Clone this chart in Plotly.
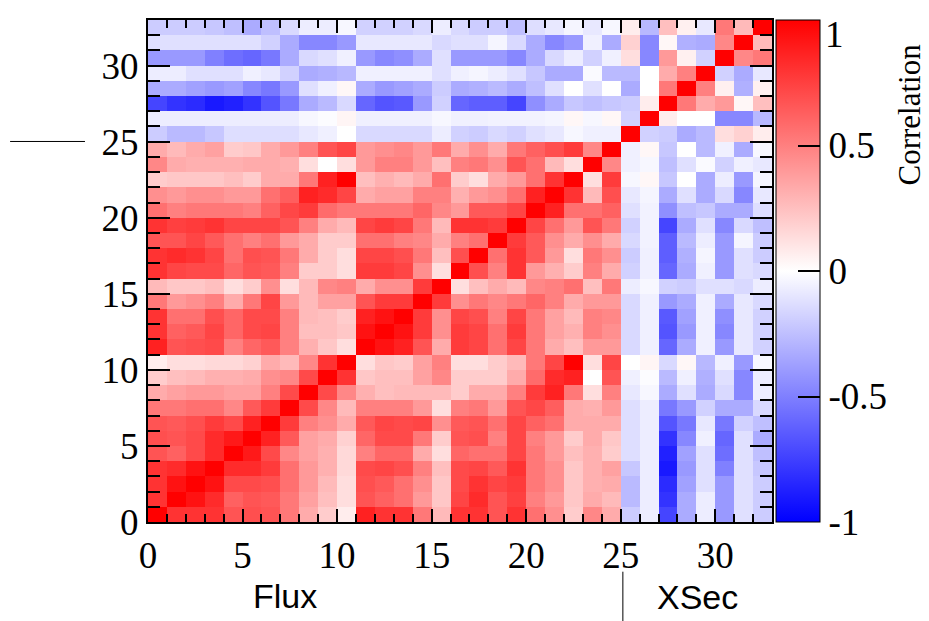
import numpy as np
import plotly.graph_objects as go

# Lower-triangle rows of the correlation matrix (row j holds columns 0..j)
r00 = [1.0]
r01 = [0.80, 1.0]
r02 = [0.80, 0.93, 1.0]
r03 = [0.80, 0.83, 0.93, 1.0]
r04 = [0.67, 0.62, 0.71, 0.83, 1.0]
r05 = [0.69, 0.67, 0.71, 0.83, 0.90, 1.0]
r06 = [0.67, 0.65, 0.69, 0.77, 0.71, 0.87, 1.0]
r07 = [0.53, 0.53, 0.56, 0.56, 0.47, 0.65, 0.77, 1.0]
r08 = [0.33, 0.37, 0.40, 0.40, 0.37, 0.37, 0.50, 0.71, 1.0]
r09 = [0.20, 0.25, 0.27, 0.31, 0.31, 0.33, 0.44, 0.47, 0.71, 1.0]
r10 = [0.07, 0.13, 0.13, 0.15, 0.15, 0.18, 0.33, 0.27, 0.47, 0.80, 1.0]
r11 = [0.87, 0.67, 0.69, 0.71, 0.50, 0.60, 0.65, 0.50, 0.31, 0.22, 0.13, 1.0]
r12 = [0.80, 0.62, 0.65, 0.73, 0.60, 0.71, 0.73, 0.50, 0.25, 0.25, 0.22, 0.93, 1.0]
r13 = [0.80, 0.56, 0.56, 0.69, 0.60, 0.71, 0.71, 0.50, 0.27, 0.25, 0.20, 0.87, 0.93, 1.0]
r14 = [0.53, 0.40, 0.44, 0.50, 0.33, 0.53, 0.73, 0.40, 0.27, 0.37, 0.37, 0.67, 0.77, 0.77, 1.0]
r15 = [0.27, 0.22, 0.22, 0.25, 0.13, 0.20, 0.44, 0.13, 0.27, 0.47, 0.50, 0.33, 0.44, 0.44, 0.77, 1.0]
r16 = [0.80, 0.73, 0.71, 0.71, 0.60, 0.67, 0.65, 0.50, 0.20, 0.20, 0.13, 0.77, 0.77, 0.73, 0.44, 0.13, 1.0]
r17 = [0.80, 0.83, 0.80, 0.73, 0.56, 0.69, 0.67, 0.53, 0.33, 0.20, 0.13, 0.73, 0.73, 0.69, 0.53, 0.25, 0.69,
       1.0]
r18 = [0.67, 0.67, 0.73, 0.65, 0.56, 0.50, 0.56, 0.40, 0.33, 0.20, 0.20, 0.56, 0.56, 0.50, 0.47, 0.33, 0.50,
       0.56, 1.0]
r19 = [0.80, 0.75, 0.77, 0.80, 0.73, 0.73, 0.73, 0.67, 0.50, 0.33, 0.27, 0.73, 0.77, 0.73, 0.53, 0.27, 0.80,
       0.80, 0.77, 1.0]
r20 = [0.56, 0.50, 0.53, 0.53, 0.53, 0.50, 0.62, 0.72, 0.77, 0.58, 0.53, 0.53, 0.53, 0.53, 0.60, 0.47, 0.40,
       0.65, 0.65, 0.73, 1.0]
r21 = [0.44, 0.40, 0.44, 0.44, 0.40, 0.40, 0.56, 0.63, 0.87, 0.83, 0.73, 0.33, 0.37, 0.37, 0.50, 0.50, 0.31,
       0.40, 0.44, 0.56, 0.87, 1.0]
r22 = [0.20, 0.22, 0.22, 0.22, 0.25, 0.20, 0.33, 0.33, 0.53, 0.87, 1.0, 0.25, 0.31, 0.27, 0.33, 0.56, 0.20,
       0.13, 0.33, 0.40, 0.56, 0.80, 1.0]
r23 = [0.47, 0.33, 0.31, 0.31, 0.31, 0.33, 0.33, 0.31, 0.13, 0.0, 0.13, 0.40, 0.50, 0.50, 0.40, 0.25, 0.50,
       0.53, 0.44, 0.67, 0.56, 0.27, 0.13, 1.0]
r24 = [0.33, 0.27, 0.33, 0.37, 0.20, 0.22, 0.33, 0.40, 0.50, 0.67, 0.73, 0.40, 0.44, 0.47, 0.40, 0.53, 0.33,
       0.44, 0.33, 0.53, 0.62, 0.69, 0.77, 0.47, 1.0]
r25 = [-0.20, -0.27, -0.27, -0.22, -0.13, -0.13, -0.13, -0.13, -0.09, -0.06, 0.0, -0.15, -0.15, -0.15, -0.15, -0.07, -0.18,
       -0.20, -0.15, -0.18, -0.12, -0.09, -0.03, -0.06, -0.06, 1.0]
r26 = [-0.07, -0.07, -0.07, -0.07, -0.07, -0.07, -0.07, -0.07, -0.03, -0.01, 0.04, -0.06, -0.06, -0.06, -0.06, -0.03, -0.06,
       -0.06, -0.05, -0.05, -0.05, -0.04, 0.03, -0.03, 0.03, -0.18, 1.0]
r27 = [-0.73, -0.80, -0.83, -0.90, -0.87, -0.80, -0.67, -0.53, -0.33, -0.27, -0.15, -0.60, -0.67, -0.65, -0.40, -0.18, -0.60,
       -0.63, -0.63, -0.73, -0.44, -0.33, -0.22, -0.25, -0.22, -0.20, 0.07, 1.0]
r28 = [-0.33, -0.33, -0.37, -0.40, -0.37, -0.47, -0.53, -0.40, -0.12, -0.06, 0.03, -0.33, -0.40, -0.37, -0.33, -0.20, -0.33,
       -0.31, -0.27, -0.33, -0.25, -0.12, 0.0, -0.12, 0.0, -0.33, 0.0, 0.53, 1.0]
r29 = [-0.07, -0.07, -0.12, -0.12, -0.12, -0.06, -0.09, -0.18, -0.33, -0.31, -0.28, -0.06, -0.06, -0.06, -0.06, -0.12, -0.06,
       -0.04, -0.07, -0.12, -0.22, -0.33, -0.33, -0.02, -0.27, -0.27, 0.0, 0.33, 0.50, 1.0]
r30 = [-0.40, -0.40, -0.40, -0.50, -0.57, -0.60, -0.53, -0.33, -0.15, -0.12, -0.06, -0.40, -0.47, -0.44, -0.33, -0.12, -0.40,
       -0.40, -0.40, -0.47, -0.33, -0.15, -0.07, -0.18, -0.06, 0.13, -0.47, 0.40, 0.06, -0.18, 1.0]
r31 = [-0.12, -0.12, -0.12, -0.12, -0.12, -0.12, -0.18, -0.33, -0.47, -0.47, -0.40, -0.09, -0.09, -0.09, -0.09, -0.15, -0.12,
       -0.12, -0.04, -0.15, -0.33, -0.47, -0.40, -0.06, -0.33, 0.18, -0.47, 0.03, -0.31, -0.33, 0.47, 1.0]
r32 = [-0.20, -0.20, -0.20, -0.22, -0.25, -0.33, -0.25, -0.15, -0.07, -0.07, -0.03, -0.18, -0.18, -0.18, -0.15, -0.07, -0.15,
       -0.20, -0.20, -0.25, -0.13, -0.09, -0.04, -0.09, -0.03, 0.07, -0.28, 0.25, 0.06, -0.09, 0.53, 0.27, 1.0]

tick_values = [0, 5, 10, 15, 20, 25, 30]
tick_labels = ["0", "5", "10", "15", "20", "25", "30"]
cbar_values = [-1, -0.5, 0, 0.5]
cbar_labels = ["-1", "-0.5", "0", "0.5"]
cbar_top_label = "1"
group_labels = ["Flux", "XSec"]

rows = [r00, r01, r02, r03, r04, r05, r06, r07, r08, r09, r10, r11, r12, r13, r14, r15, r16,
        r17, r18, r19, r20, r21, r22, r23, r24, r25, r26, r27, r28, r29, r30, r31, r32]
n = len(rows)
z = np.zeros((n, n))
for j, row in enumerate(rows):
    for i, v in enumerate(row):
        z[j, i] = v
        z[i, j] = v

centers = np.arange(n) + 0.5

fig = go.Figure(go.Heatmap(
    z=z, x=centers, y=centers, zmin=-1, zmax=1,
    colorscale=[[0, "#0000ff"], [0.5, "#ffffff"], [1, "#ff0000"]],
    colorbar=dict(
        x=1.006, xanchor="left", y=0.5, yanchor="middle", len=1, lenmode="fraction",
        thickness=44, xpad=0, ypad=0, outlinewidth=1, outlinecolor="black",
        tickvals=cbar_values, ticktext=cbar_labels, ticks="inside", ticklen=22,
        tickcolor="black", tickwidth=1.5,
        tickfont=dict(family="Liberation Serif", size=37, color="black"),
    ),
    hoverinfo="skip",
))

axis_common = dict(
    range=[0, n], tickvals=tick_values, ticktext=tick_labels,
    ticks="inside", tickcolor="black", tickwidth=1.5,
    mirror="allticks", showline=True, linecolor="black", linewidth=2,
    showgrid=False, zeroline=False,
    tickfont=dict(family="Liberation Serif", size=37, color="black"),
)
fig.update_xaxes(**axis_common, ticklen=13,
                 minor=dict(dtick=1, tick0=0, ticklen=8, ticks="inside", tickcolor="black", tickwidth=1.5))
fig.update_yaxes(**axis_common, ticklen=22,
                 minor=dict(dtick=1, tick0=0, ticklen=12, ticks="inside", tickcolor="black", tickwidth=1.5))

fig.update_layout(
    width=921, height=613, autosize=False,
    margin=dict(l=140, r=157, t=10, b=99),
    paper_bgcolor="white", plot_bgcolor="white",
    shapes=[
        dict(type="line", xref="paper", yref="paper", x0=-0.221, x1=-0.101, y0=0.758, y1=0.758,
             line=dict(color="black", width=1)),
        dict(type="line", xref="paper", yref="paper", x0=0.761, x1=0.761, y0=-0.099, y1=-0.2,
             line=dict(color="black", width=1)),
    ],
    annotations=[
        dict(text=cbar_top_label, xref="paper", yref="paper", x=1.082, y=0.972,
             showarrow=False, xanchor="left", yanchor="middle",
             font=dict(family="Liberation Serif", size=37, color="black")),
        dict(text="Correlation", xref="paper", yref="paper", x=1.221, y=0.8115, textangle=-90,
             showarrow=False, xanchor="center", yanchor="middle",
             font=dict(family="Liberation Serif", size=31, color="black")),
        dict(text=group_labels[0], xref="paper", yref="paper", x=0.2196, y=-0.147,
             showarrow=False, xanchor="center", yanchor="middle",
             font=dict(family="Liberation Sans", size=34, color="black")),
        dict(text=group_labels[1], xref="paper", yref="paper", x=0.880, y=-0.192,
             showarrow=False, xanchor="center", yanchor="bottom",
             font=dict(family="Liberation Sans", size=34, color="black")),
    ],
)

fig.write_html("out.html")
